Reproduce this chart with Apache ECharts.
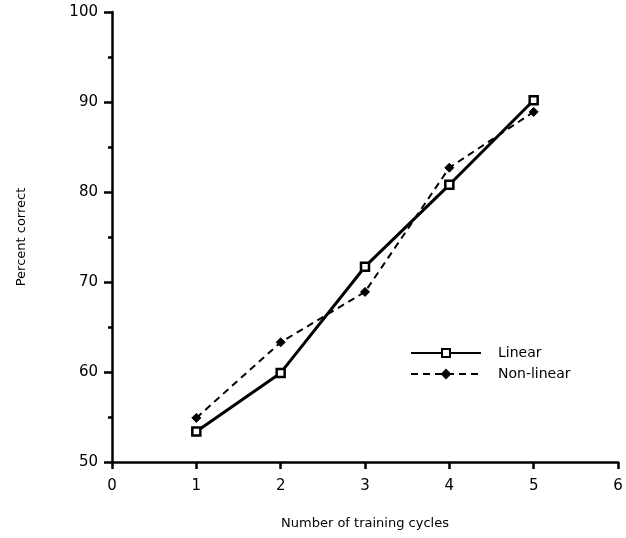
<!DOCTYPE html>
<html><head><meta charset="utf-8">
<script src="https://cdn.jsdelivr.net/npm/echarts@6/dist/echarts.min.js"></script>
<style>html,body{margin:0;padding:0;background:#fff}#c{width:626px;height:538px}</style>
</head><body><div id="c"></div>
<script>
const cycles = [1, 2, 3, 4, 5];
const linear = [53.4, 59.9, 71.7, 80.8, 90.2];
const nonLinear = [54.9, 63.3, 68.9, 82.7, 88.9];
const xTicks = [0, 1, 2, 3, 4, 5, 6];
const yTicks = [50, 60, 70, 80, 90, 100];

const font = '"DejaVu Sans", sans-serif';
const chart = echarts.init(document.getElementById('c'), null, {renderer: 'canvas'});
chart.setOption({
  animation: false,
  backgroundColor: '#fff',
  grid: {left: 112, right: 8, top: 12, bottom: 76, containLabel: false},
  legend: {
    orient: 'vertical', left: 405, top: 341, itemGap: 7, itemWidth: 70, itemHeight: 10,
    textStyle: {color: '#000', fontFamily: font, fontSize: 14, padding: [0, 0, 0, 12]},
    data: ['Linear', 'Non-linear']
  },
  xAxis: {
    type: 'value', min: xTicks[0], max: xTicks[xTicks.length - 1], interval: 1,
    name: 'Number of training cycles', nameLocation: 'middle', nameGap: 55,
    nameTextStyle: {color: '#000', fontFamily: font, fontSize: 13},
    axisLine: {lineStyle: {color: '#000', width: 2.5}},
    axisTick: {show: true, length: 7, lineStyle: {color: '#000', width: 2.5}},
    axisLabel: {color: '#000', fontFamily: font, fontSize: 15, margin: 17},
    splitLine: {show: false}
  },
  yAxis: {
    type: 'value', min: yTicks[0], max: yTicks[yTicks.length - 1], interval: 10,
    name: 'Percent correct', nameLocation: 'middle', nameGap: 84, nameRotate: 90,
    nameTextStyle: {color: '#000', fontFamily: font, fontSize: 13},
    axisLine: {show: true, lineStyle: {color: '#000', width: 2.5}},
    axisTick: {show: true, length: 8, lineStyle: {color: '#000', width: 2.5}},
    minorTick: {show: true, splitNumber: 2, length: 4, lineStyle: {color: '#000', width: 2.5}},
    axisLabel: {color: '#000', fontFamily: font, fontSize: 15, margin: 14},
    splitLine: {show: false}
  },
  series: [
    {
      name: 'Linear', type: 'line',
      data: cycles.map((c, i) => [c, linear[i]]),
      symbol: 'rect', symbolSize: 8, showAllSymbol: true,
      lineStyle: {color: '#000', width: 3},
      itemStyle: {color: '#fff', borderColor: '#000', borderWidth: 2.5},
      z: 3
    },
    {
      name: 'Non-linear', type: 'line',
      data: cycles.map((c, i) => [c, nonLinear[i]]),
      symbol: 'diamond', symbolSize: 9, showAllSymbol: true,
      lineStyle: {color: '#000', width: 2, type: [7, 5]},
      itemStyle: {color: '#000', borderColor: '#000', borderWidth: 1},
      z: 2
    }
  ]
});
</script></body></html>
